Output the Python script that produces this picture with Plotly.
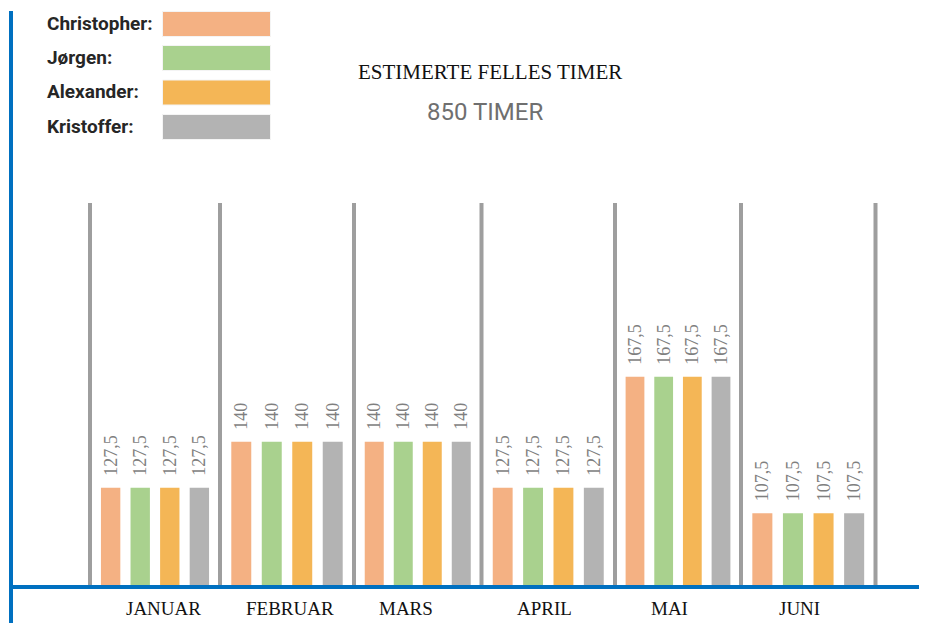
import plotly.graph_objects as go

# ---------------- data ----------------
MONTHS = ["JANUAR", "FEBRUAR", "MARS", "APRIL", "MAI", "JUNI"]
PEOPLE = ["Christopher", "Jørgen", "Alexander", "Kristoffer"]
CHRISTOPHER = [127.5, 140, 140, 127.5, 167.5, 107.5]
JORGEN = [127.5, 140, 140, 127.5, 167.5, 107.5]
ALEXANDER = [127.5, 140, 140, 127.5, 167.5, 107.5]
KRISTOFFER = [127.5, 140, 140, 127.5, 167.5, 107.5]
SERIES = [CHRISTOPHER, JORGEN, ALEXANDER, KRISTOFFER]
TITLE = "ESTIMERTE FELLES TIMER"
TOTAL_LABEL = "850 TIMER"

# ---------------- style ----------------
WIN_W, WIN_H = 927, 623
PAGE_MARGIN = 8          # default body margin of the html page
W, H = WIN_W - PAGE_MARGIN, WIN_H - PAGE_MARGIN
COLORS = ["#F4B183", "#A9D18E", "#F4B656", "#B3B3B3"]
BLUE = "#0070C0"
GRAY_LINE = "#9E9E9E"
# each month is its own small panel (the original is six separate charts)
PANEL_EDGES_PX = [90, 220, 354, 481.5, 615, 741, 875.5]
PANEL_TOP_PX, PANEL_BOTTOM_PX = 200, 585
PANEL_Y_MAX = [504.5, 376, 376, 504.5, 309.6, 577]
MONTH_LABEL_SHIFT = [8, 3, -12, -4, -9, -9]
SERIF = "Liberation Serif, Times New Roman, serif"
SANS = "Roboto, Lato, sans-serif"


def px_x(x):
    return (x - PAGE_MARGIN) / W


def px_y(y):
    return 1 - (y - PAGE_MARGIN) / H


def fmt(v):
    return f"{v:g}".replace(".", ",")


fig = go.Figure()
layout_axes = {}
annotations = []
for m, month in enumerate(MONTHS):
    sfx = "" if m == 0 else str(m + 1)
    for p, name in enumerate(PEOPLE):
        v = SERIES[p][m]
        fig.add_trace(go.Bar(
            x=[month], y=[v], name=name,
            xaxis="x" + sfx, yaxis="y" + sfx,
            marker=dict(color=COLORS[p], line=dict(width=0)),
            text=["\u00a0\u00a0" + fmt(v)], textposition="outside",
            textangle=-90, constraintext="none", cliponaxis=False,
            textfont=dict(family=SERIF, size=18, color="#7F7F7F"),
            showlegend=False, hoverinfo="skip",
        ))
    layout_axes["xaxis" + sfx] = dict(
        domain=[px_x(PANEL_EDGES_PX[m]), px_x(PANEL_EDGES_PX[m + 1])],
        anchor="y" + sfx, type="category", showgrid=False, zeroline=False,
        showline=False, ticks="", showticklabels=False,
        fixedrange=True,
    )
    layout_axes["yaxis" + sfx] = dict(
        domain=[px_y(PANEL_BOTTOM_PX), px_y(PANEL_TOP_PX)],
        anchor="x" + sfx, range=[0, PANEL_Y_MAX[m]], visible=False,
        fixedrange=True,
    )
    # month label under its panel
    annotations.append(dict(
        text=month, xref="x" + sfx, yref="paper", x=month, y=px_y(608),
        xanchor="center", yanchor="middle", xshift=MONTH_LABEL_SHIFT[m],
        showarrow=False, font=dict(family=SERIF, size=19, color="#111111"),
    ))

shapes = []
# gray separators
for xe in PANEL_EDGES_PX:
    shapes.append(dict(type="line", xref="paper", yref="paper",
                       x0=px_x(xe), x1=px_x(xe), y0=px_y(587), y1=px_y(203),
                       line=dict(color=GRAY_LINE, width=4), layer="above"))
# blue axis lines
shapes.append(dict(type="line", xref="paper", yref="paper",
                   x0=px_x(9.5), x1=1, y0=px_y(587), y1=px_y(587),
                   line=dict(color=BLUE, width=4), layer="above"))
shapes.append(dict(type="line", xref="paper", yref="paper",
                   x0=px_x(11), x1=px_x(11), y0=px_y(11), y1=0,
                   line=dict(color=BLUE, width=4), layer="above"))

LEG_Y = [24, 58, 92.5, 127]
for p, name in enumerate(PEOPLE):
    annotations.append(dict(
        text=name + ":", xref="paper", yref="paper",
        x=px_x(45), y=px_y(LEG_Y[p] - 1), xanchor="left", yanchor="middle",
        showarrow=False,
        font=dict(family=SANS, size=19, color="#262626", weight="bold"),
    ))
    shapes.append(dict(type="rect", xref="paper", yref="paper",
                       x0=px_x(162.5), x1=px_x(270.5),
                       y0=px_y(LEG_Y[p] - 12.5), y1=px_y(LEG_Y[p] + 12.5),
                       fillcolor=COLORS[p], line=dict(color="#F4F4F4", width=1)))

annotations.append(dict(
    text=TITLE, xref="paper", yref="paper", x=px_x(490), y=px_y(72),
    xanchor="center", yanchor="middle", showarrow=False,
    font=dict(family=SERIF, size=21, color="#111111"),
))
annotations.append(dict(
    text=TOTAL_LABEL, xref="paper", yref="paper", x=px_x(485), y=px_y(112),
    xanchor="center", yanchor="middle", showarrow=False,
    font=dict(family=SANS, size=24, color="#6F6F6F"),
))

fig.update_layout(
    width=W, height=H,
    margin=dict(l=0, r=0, t=0, b=0),
    paper_bgcolor="white", plot_bgcolor="rgba(0,0,0,0)",
    barmode="group", bargap=0.09, bargroupgap=0.345,
    shapes=shapes, annotations=annotations,
    showlegend=False,
    **layout_axes,
)

fig.write_html("out.html")
